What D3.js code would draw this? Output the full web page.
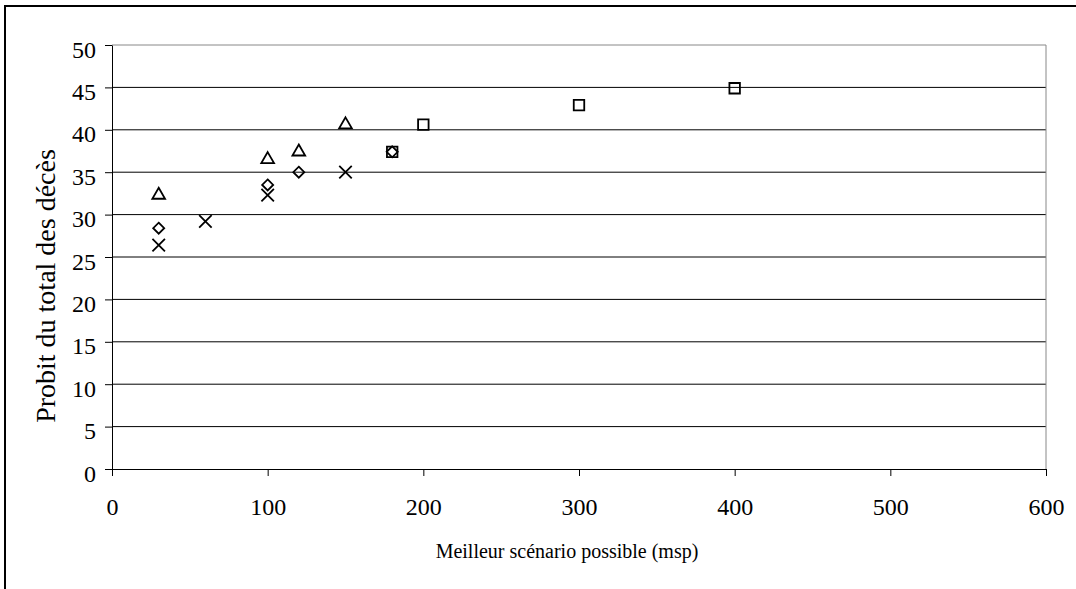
<!DOCTYPE html>
<html>
<head>
<meta charset="utf-8">
<script src="https://cdn.jsdelivr.net/npm/d3@7"></script>
<style>
  body { margin: 0; background: #fff; }
  text { font-family: "Liberation Serif", "Times New Roman", serif; fill: #000; }
</style>
</head>
<body>
<svg id="chart" width="1076" height="589"></svg>
<script>
// series
let triangleData = [
  {x: 30, y: 32.3}, {x: 100, y: 36.5}, {x: 120, y: 37.4}, {x: 150, y: 40.6}
];
let diamondData = [
  {x: 30, y: 28.4}, {x: 100, y: 33.5}, {x: 120, y: 35.0}, {x: 180, y: 37.4}
];
let crossData = [
  {x: 30, y: 26.4}, {x: 60, y: 29.2}, {x: 100, y: 32.3}, {x: 150, y: 35.0}
];
let squareData = [
  {x: 180, y: 37.4}, {x: 200, y: 40.6}, {x: 300, y: 42.9}, {x: 400, y: 44.9}
];
let xTicks = [0, 100, 200, 300, 400, 500, 600];
let yTicks = [0, 5, 10, 15, 20, 25, 30, 35, 40, 45, 50];

let margin = {top: 45, right: 30, bottom: 120, left: 112},
    width = 1046 - margin.left,
    height = 469 - margin.top;

let svg = d3.select("#chart");

// outer frame (only top and left edges show)
svg.append("rect")
  .attr("x", 5).attr("y", 6)
  .attr("width", 1090).attr("height", 600)
  .attr("fill", "none").attr("stroke", "#000").attr("stroke-width", 2);

let g = svg.append("g")
  .attr("transform", "translate(" + margin.left + "," + margin.top + ")");

let x = d3.scaleLinear().domain([0, 600]).range([0, width]);
let y = d3.scaleLinear().domain([0, 50]).range([height, 0]);

// gridlines
g.selectAll(".grid")
  .data(yTicks.slice(1))
  .enter().append("line")
    .attr("class", "grid")
    .attr("x1", 0).attr("x2", width)
    .attr("y1", function(d) { return y(d); })
    .attr("y2", function(d) { return y(d); })
    .attr("stroke", function(d) { return d == 50 ? "#888" : "#000"; })
    .attr("stroke-width", 1);

// right edge of plot area
g.append("line")
  .attr("x1", width).attr("x2", width)
  .attr("y1", 0).attr("y2", height)
  .attr("stroke", "#888");

// axes
let xAxis = g.append("g")
  .attr("transform", "translate(0," + height + ")")
  .call(d3.axisBottom(x).tickValues(xTicks).tickSize(7).tickPadding(22).tickSizeOuter(0));
let yAxis = g.append("g")
  .call(d3.axisLeft(y).tickValues(yTicks).tickSize(7).tickPadding(9).tickSizeOuter(0));

[xAxis, yAxis].forEach(function(a) {
  a.attr("font-family", null).attr("font-size", null);
  a.selectAll("text").style("font-size", "24px");
  a.selectAll("line").attr("stroke", "#000");
  a.select(".domain").attr("stroke", "#000");
});
yAxis.selectAll("text").attr("dy", "0.5em");

// markers
function plot(data, name, type, size) {
  g.selectAll(".m-" + name)
    .data(data)
    .enter().append("path")
      .attr("class", "m-" + name)
      .attr("transform", function(d) { return "translate(" + x(d.x) + "," + y(d.y) + ")"; })
      .attr("d", d3.symbol().type(type).size(size))
      .attr("fill", "none")
      .attr("stroke", "#000")
      .attr("stroke-width", 1.8);
}

let diamond = {
  draw: function(ctx, size) {
    let r = Math.sqrt(size) / 2;
    ctx.moveTo(0, -r); ctx.lineTo(r, 0); ctx.lineTo(0, r); ctx.lineTo(-r, 0); ctx.closePath();
  }
};
let cross = {
  draw: function(ctx, size) {
    let r = Math.sqrt(size) / 2;
    ctx.moveTo(-r, -r); ctx.lineTo(r, r);
    ctx.moveTo(r, -r); ctx.lineTo(-r, r);
  }
};

plot(squareData, "square", d3.symbolSquare, 110);
plot(triangleData, "triangle", d3.symbolTriangle, 70);
plot(diamondData, "diamond", diamond, 121);
plot(crossData, "cross", cross, 156);

// titles
svg.append("text")
  .attr("x", 567).attr("y", 558)
  .attr("text-anchor", "middle")
  .style("font-size", "20px")
  .text("Meilleur scénario possible (msp)");

svg.append("text")
  .attr("transform", "translate(55,286) rotate(-90)")
  .attr("text-anchor", "middle")
  .style("font-size", "28px")
  .text("Probit du total des décès");
</script>
</body>
</html>
